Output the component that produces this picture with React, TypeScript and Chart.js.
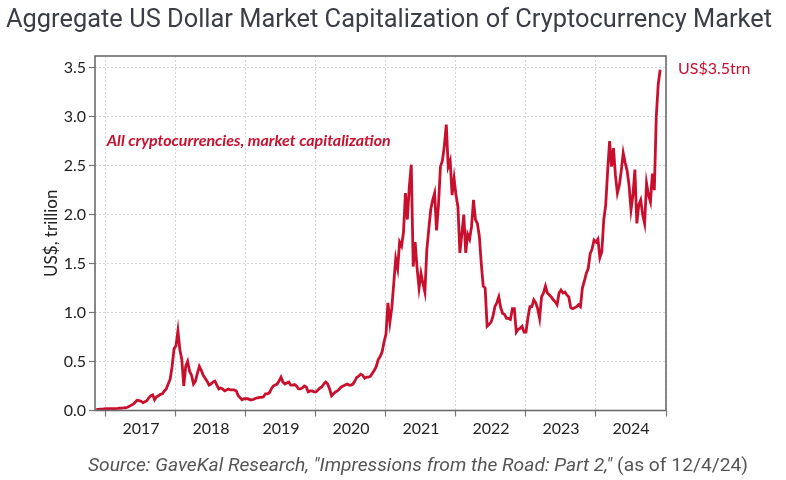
import React, { useEffect, useRef } from "react";
import { Chart, registerables } from "chart.js";

Chart.register(...registerables);

// ---- DATA (US$ trillion), sampled ~every 10 days: 36 periods per year ----
const PERIODS_PER_YEAR = 36;
const START_PERIOD_2016 = 31;
const CAP_2016 = [0.012, 0.012, 0.013, 0.014, 0.016];
const CAP_2017 = [
  0.018, 0.019, 0.018, 0.018, 0.019, 0.02, 0.021, 0.023, 0.025, 0.026, 0.028, 0.033,
  0.042, 0.055, 0.065, 0.085, 0.105, 0.1, 0.095, 0.08, 0.09, 0.1, 0.13, 0.15,
  0.16, 0.11, 0.14, 0.15, 0.165, 0.17, 0.2, 0.22, 0.27, 0.32, 0.45, 0.63,
];
const CAP_2018 = [
  0.66, 0.815, 0.62, 0.52, 0.25, 0.45, 0.5, 0.4, 0.36, 0.27, 0.3, 0.38,
  0.45, 0.41, 0.36, 0.33, 0.3, 0.26, 0.27, 0.29, 0.3, 0.26, 0.22, 0.23,
  0.22, 0.2, 0.21, 0.22, 0.21, 0.21, 0.21, 0.2, 0.15, 0.13, 0.11, 0.12,
];
const CAP_2019 = [
  0.12, 0.12, 0.11, 0.11, 0.115, 0.125, 0.13, 0.135, 0.135, 0.14, 0.17, 0.17,
  0.18, 0.22, 0.25, 0.26, 0.27, 0.3, 0.34, 0.29, 0.27, 0.28, 0.29, 0.26,
  0.26, 0.265, 0.25, 0.22, 0.22, 0.23, 0.25, 0.24, 0.19, 0.2, 0.2, 0.19,
];
const CAP_2020 = [
  0.19, 0.21, 0.23, 0.24, 0.27, 0.29, 0.27, 0.22, 0.15, 0.17, 0.19, 0.2,
  0.22, 0.24, 0.25, 0.26, 0.27, 0.26, 0.26, 0.27, 0.3, 0.34, 0.35, 0.37,
  0.36, 0.33, 0.34, 0.34, 0.35, 0.38, 0.41, 0.45, 0.52, 0.55, 0.6, 0.7,
];
const CAP_2021 = [
  0.78, 1.1, 0.9, 1.05, 1.3, 1.55, 1.45, 1.72, 1.68, 1.82, 2.22, 1.95,
  2.29, 2.51, 1.47, 1.72, 1.45, 1.25, 1.4, 1.3, 1.21, 1.64, 1.85, 2.05,
  2.15, 2.22, 1.84, 2.1, 2.49, 2.55, 2.7, 2.92, 2.49, 2.55, 2.2, 2.37,
];
const CAP_2022 = [
  2.2, 2.08, 1.61, 1.8, 2.0, 1.61, 1.8, 1.75, 1.88, 2.15, 1.95, 1.91,
  1.78, 1.5, 1.27, 1.25, 0.86, 0.88, 0.9, 0.96, 1.06, 1.1, 1.16, 1.05,
  0.99, 0.98, 0.94, 0.94, 0.93, 1.04, 1.04, 0.8, 0.83, 0.84, 0.86, 0.8,
];
const CAP_2023 = [
  0.8, 0.95, 1.06, 1.06, 1.13, 1.1, 1.04, 0.94, 1.16, 1.2, 1.27, 1.2,
  1.18, 1.16, 1.13, 1.11, 1.08, 1.2, 1.23, 1.2, 1.21, 1.18, 1.16, 1.05,
  1.04, 1.05, 1.06, 1.08, 1.06, 1.25, 1.32, 1.4, 1.45, 1.6, 1.65, 1.74,
];
const CAP_2024 = [
  1.72, 1.75, 1.56, 1.62, 1.95, 2.1, 2.45, 2.75, 2.49, 2.68, 2.4, 2.22,
  2.3, 2.45, 2.63, 2.53, 2.45, 2.3, 2.05, 2.2, 2.46, 1.91, 2.1, 2.15,
  2.0, 1.91, 2.32, 2.2, 2.13, 2.42, 2.25, 3.0, 3.33, 3.48,
];

const YEAR_BOUNDARIES = [2017, 2018, 2019, 2020, 2021, 2022, 2023, 2024, 2025];
const YEAR_LABELS = ["2017", "2018", "2019", "2020", "2021", "2022", "2023", "2024"];
const Y_TICKS = [0, 0.5, 1.0, 1.5, 2.0, 2.5, 3.0, 3.5];
const X_MIN = 2016.843;
const X_MAX = 2025;
const Y_MIN = 0;
const Y_MAX = 3.62;

const TITLE = "Aggregate US Dollar Market Capitalization of Cryptocurrency Market";
const SOURCE_ITALIC = 'Source: GaveKal Research, "Impressions from the Road: Part 2,"';
const SOURCE_PLAIN = " (as of 12/4/24)";
const SERIES_LABEL = "All cryptocurrencies, market capitalization";
const END_LABEL = "US$3.5trn";
const Y_TITLE = "US$, trillion";

const SERIES: [number, number, number[]][] = [
  [2016, START_PERIOD_2016, CAP_2016],
  [2017, 0, CAP_2017],
  [2018, 0, CAP_2018],
  [2019, 0, CAP_2019],
  [2020, 0, CAP_2020],
  [2021, 0, CAP_2021],
  [2022, 0, CAP_2022],
  [2023, 0, CAP_2023],
  [2024, 0, CAP_2024],
];

const RED = "#c8102e";
const AXIS_FONT = "Lato, 'Open Sans', sans-serif";

export default function App() {
  const ref = useRef<HTMLCanvasElement | null>(null);

  useEffect(() => {
    const canvas = ref.current;
    if (!canvas) return;
    const points = SERIES.flatMap(([yr, off, vals]) =>
      vals.map((v, i) => ({ x: yr + (off + i) / PERIODS_PER_YEAR, y: v }))
    );
    const lastValue = CAP_2024[CAP_2024.length - 1];

    const framePlugin = {
      id: "frame",
      afterDraw(chart: any) {
        const { ctx, chartArea: a } = chart;
        ctx.save();
        ctx.strokeStyle = "#6b6b6b";
        ctx.lineWidth = 1.6;
        ctx.strokeRect(a.left, a.top, a.right - a.left, a.bottom - a.top);
        ctx.restore();
      },
    };

    const textPlugin = {
      id: "texts",
      afterDraw(chart: any) {
        const { ctx, chartArea: a } = chart;
        const xs = chart.scales.x;
        const ys = chart.scales.y;
        ctx.save();
        // title
        ctx.fillStyle = "#3b3e46";
        ctx.font = "400 26px Roboto, sans-serif";
        ctx.textBaseline = "middle";
        ctx.textAlign = "left";
        ctx.fillText(TITLE, 6, 20, 766);
        // series label
        ctx.fillStyle = RED;
        ctx.font = "italic 700 16px Lato, sans-serif";
        ctx.fillText(SERIES_LABEL, xs.getPixelForValue(2017.01), ys.getPixelForValue(2.75), 287);
        // end label
        ctx.font = "400 16px Lato, sans-serif";
        ctx.fillText(END_LABEL, a.right + 12, ys.getPixelForValue(lastValue) - 1);
        // source
        ctx.fillStyle = "#555555";
        ctx.font = "italic 400 18px Roboto, sans-serif";
        const w1 = ctx.measureText(SOURCE_ITALIC).width;
        ctx.font = "400 18px Roboto, sans-serif";
        const w2 = ctx.measureText(SOURCE_PLAIN).width;
        const s = 660 / (w1 + w2);
        ctx.translate(88, 466);
        ctx.scale(s, 1);
        ctx.font = "italic 400 18px Roboto, sans-serif";
        ctx.fillText(SOURCE_ITALIC, 0, 0);
        ctx.font = "400 18px Roboto, sans-serif";
        ctx.fillText(SOURCE_PLAIN, w1, 0);
        ctx.restore();
      },
    };

    const chart = new Chart(canvas, {
      type: "line",
      data: {
        datasets: [
          {
            data: points,
            xAxisID: "x",
            yAxisID: "y",
            borderColor: RED,
            borderWidth: 2.8,
            pointRadius: 0,
            tension: 0,
            fill: false,
          },
        ],
      },
      options: {
        animation: false,
        responsive: false,
        devicePixelRatio: 1,
        parsing: false,
        layout: { padding: { left: 6, top: 56, right: 0, bottom: 37.5 } },
        plugins: {
          legend: { display: false },
          tooltip: { enabled: false },
          title: { display: false },
        },
        scales: {
          x: {
            type: "linear",
            position: "bottom",
            min: X_MIN,
            max: X_MAX,
            weight: 0,
            afterBuildTicks: (s: any) => {
              s.ticks = YEAR_BOUNDARIES.map((v) => ({ value: v }));
            },
            ticks: { display: false },
            grid: { color: "#d6d6d6", tickColor: "#777", tickLength: 6, tickWidth: 1.2, lineWidth: 1 },
            border: { display: false, dash: [2, 2] },
            afterFit: (s: any) => {
              s.height = 6;
            },
          },
          xl: {
            type: "linear",
            position: "bottom",
            min: X_MIN,
            max: X_MAX,
            weight: 1,
            afterBuildTicks: (s: any) => {
              s.ticks = YEAR_LABELS.map((l) => ({ value: Number(l) + 0.5 }));
            },
            ticks: {
              callback: (_v: any, i: number) => YEAR_LABELS[i],
              color: "#222",
              font: { family: AXIS_FONT, size: 16 },
              padding: 3,
              maxRotation: 0,
              autoSkip: false,
            },
            grid: { display: false, drawTicks: false },
            border: { display: false },
            afterFit: (s: any) => {
              s.height = 26;
            },
          },
          y: {
            type: "linear",
            position: "left",
            min: Y_MIN,
            max: Y_MAX,
            afterBuildTicks: (s: any) => {
              s.ticks = Y_TICKS.map((v) => ({ value: v }));
            },
            ticks: {
              callback: (v: any) => Number(v).toFixed(1),
              color: "#222",
              font: { family: AXIS_FONT, size: 16 },
              padding: 3,
            },
            grid: { color: "#d6d6d6", tickColor: "#777", tickLength: 6, tickWidth: 1.2, lineWidth: 1 },
            border: { display: false, dash: [2, 2] },
            title: {
              display: true,
              text: Y_TITLE,
              color: "#222",
              font: { family: AXIS_FONT, size: 17 },
              padding: { top: 35, bottom: 0 },
            },
            afterFit: (s: any) => {
              s.width = 89;
            },
          },
          yr: {
            type: "linear",
            position: "right",
            display: true,
            ticks: { display: false },
            grid: { display: false, drawTicks: false },
            border: { display: false },
            afterFit: (s: any) => {
              s.width = 120;
            },
          },
        },
      },
      plugins: [framePlugin, textPlugin],
    } as any);
    return () => chart.destroy();
  }, []);

  return (
    <div style={{ position: "fixed", left: 0, top: 0, width: 786, height: 480, background: "#fff" }}>
      <canvas ref={ref} width={786} height={480} style={{ display: "block", width: 786, height: 480 }} />
    </div>
  );
}
